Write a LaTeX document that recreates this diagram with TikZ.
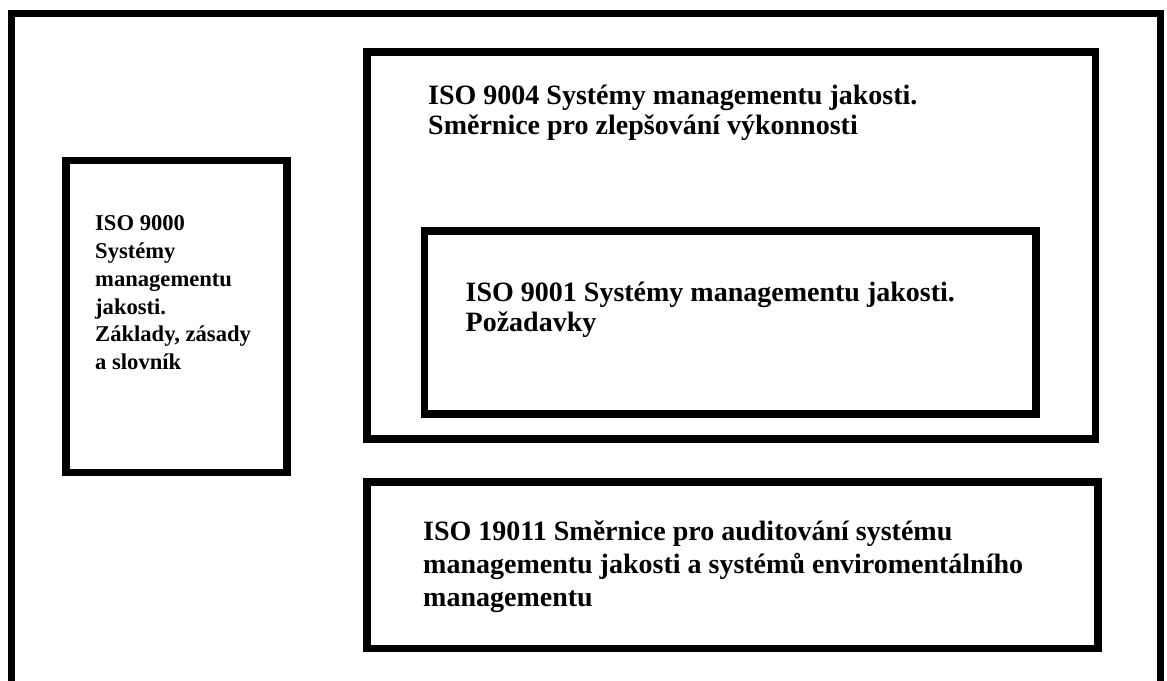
\documentclass[tikz,border=0pt]{standalone}
\usepackage{fontspec}
\setmainfont{Liberation Serif}
\begin{document}
\begin{tikzpicture}[x=1pt,y=-1pt,
  frame/.style={draw=black,line width=7.5pt},
  bigtext/.style={anchor=base west,inner sep=0pt,align=left,
    font=\bfseries\fontsize{28}{30}\selectfont},
  widetext/.style={anchor=base west,inner sep=0pt,align=left,
    font=\bfseries\fontsize{28}{33}\selectfont},
  smalltext/.style={anchor=base west,inner sep=0pt,align=left,
    font=\bfseries\fontsize{22.6}{27.8}\selectfont}]
\useasboundingbox (0,0) rectangle (1167,680);
\clip (0,0) rectangle (1167,680);
\fill[white] (0,0) rectangle (1167,680);
% outer frame
\draw[frame] (11.5,13.5) rectangle (1160.5,700);
% boxes
\draw[frame] (65.8,160.3) rectangle (287,472.7);
\draw[frame] (367,52.2) rectangle (1095.3,438.8);
\draw[frame] (424.5,231.2) rectangle (1036.2,413.8);
\draw[frame] (367,482.2) rectangle (1098,648.7);
% texts (anchor = baseline of last line)
\node[smalltext] (t9000) at (95,369.7) {ISO 9000\\Systémy\\managementu\\jakosti.\\Základy, zásady\\a slovník};
\node[bigtext] (t9004) at (428,134.3) {ISO 9004 Systémy managementu jakosti.\\Směrnice pro zlepšování výkonnosti};
\node[bigtext] (t9001) at (465.5,331) {ISO 9001 Systémy managementu jakosti.\\Požadavky};
\node[widetext] (t19011) at (423,606) {ISO 19011 Směrnice pro auditování systému\\managementu jakosti a systémů enviromentálního\\managementu};
\end{tikzpicture}
\end{document}
